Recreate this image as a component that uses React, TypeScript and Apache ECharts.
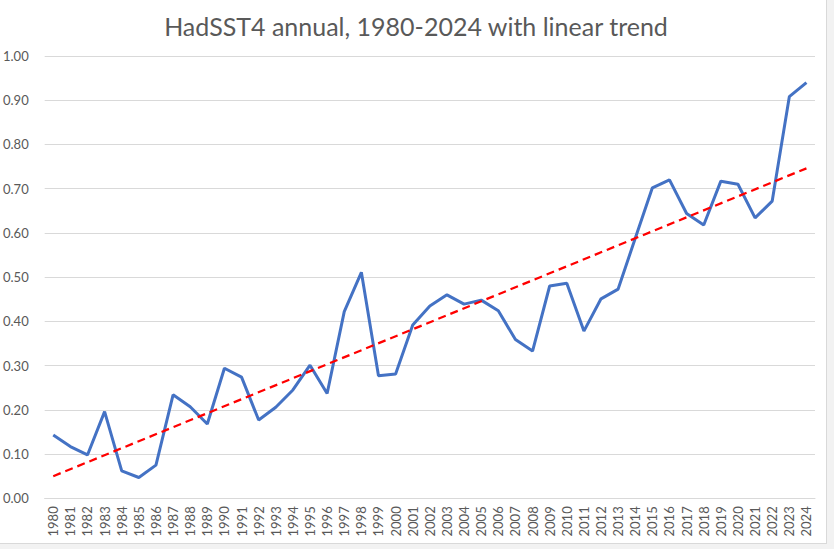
import React, { useEffect, useRef } from "react";
import * as echarts from "echarts";

const years: string[] = [];
for (let y = 1980; y <= 2024; y++) years.push(String(y));

const anomalies = [
  0.143, 0.117, 0.098, 0.196, 0.062, 0.047, 0.075, 0.234, 0.207, 0.168,
  0.294, 0.274, 0.177, 0.206, 0.245, 0.301, 0.237, 0.422, 0.511, 0.277,
  0.281, 0.392, 0.435, 0.460, 0.439, 0.448, 0.424, 0.359, 0.333, 0.480,
  0.486, 0.378, 0.451, 0.473, 0.588, 0.702, 0.720, 0.644, 0.618, 0.717,
  0.710, 0.634, 0.672, 0.908, 0.940,
];

// linear trend end values (1980, 2024)
const trendEnds = [0.050, 0.746];

const yTicks = [0, 0.1, 0.2, 0.3, 0.4, 0.5, 0.6, 0.7, 0.8, 0.9, 1.0];

export default function App() {
  const ref = useRef<HTMLDivElement>(null);
  useEffect(() => {
    if (!ref.current) return;
    const chart = echarts.init(ref.current, undefined, { renderer: "svg" });
    const trendData: (number | null)[] = years.map(() => null);
    trendData[0] = trendEnds[0];
    trendData[years.length - 1] = trendEnds[1];
    chart.setOption({
      animation: false,
      title: {
        text: "HadSST4 annual, 1980-2024 with linear trend",
        left: 411,
        textAlign: "center",
        top: 8,
        textStyle: {
          fontFamily: "Lato",
          fontSize: 25,
          fontWeight: "normal",
          color: "#595959",
        },
      },
      grid: { left: 43, right: 19, top: 56, bottom: 50.7 },
      xAxis: {
        type: "category",
        data: years,
        boundaryGap: true,
        axisLine: { show: true, lineStyle: { color: "#d9d9d9", width: 1 } },
        axisTick: { show: false },
        axisLabel: {
          interval: 0,
          rotate: 90,
          margin: 8,
          fontFamily: "Lato",
          fontSize: 13,
          color: "#595959",
        },
      },
      yAxis: {
        type: "value",
        min: yTicks[0],
        max: yTicks[yTicks.length - 1],
        interval: 0.1,
        axisLine: { show: false },
        axisTick: { show: false },
        splitLine: { lineStyle: { color: "#d9d9d9", width: 1 } },
        axisLabel: {
          margin: 16,
          fontFamily: "Lato",
          fontSize: 13,
          color: "#595959",
          formatter: (v: number) => v.toFixed(2),
        },
      },
      series: [
        {
          type: "line",
          data: anomalies,
          symbol: "none",
          lineStyle: { color: "#4472C4", width: 3 },
          z: 2,
        },
        {
          type: "line",
          data: trendData,
          connectNulls: true,
          symbol: "none",
          lineStyle: { color: "#FF0000", width: 2.25, type: [8, 5] },
          z: 3,
        },
      ],
    });
    return () => chart.dispose();
  }, []);
  return (
    <div style={{ position: "fixed", left: 0, top: 0, width: 834, height: 549, background: "#f2f2f2" }}>
      <div
        style={{
          position: "absolute",
          left: -1,
          top: -1,
          width: 826,
          height: 543,
          border: "1px solid #d9d9d9",
          background: "#ffffff",
        }}
      />
      <div ref={ref} style={{ position: "absolute", left: 0, top: 0, width: 834, height: 549 }} />
    </div>
  );
}
